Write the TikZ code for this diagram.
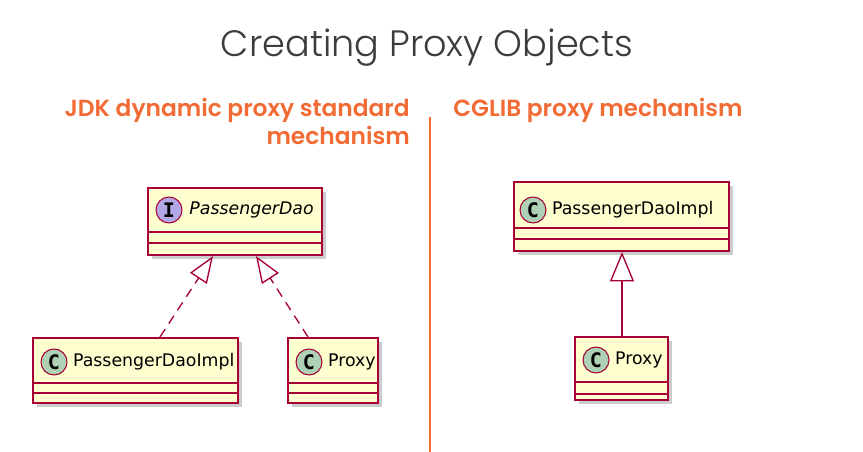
\documentclass[tikz,border=0pt]{standalone}
\usepackage{fontspec}
\setmainfont{Poppins}
\IfFontExistsTF{Poppins Light}{\newfontfamily\titlefont{Poppins Light}}{\newfontfamily\titlefont{Poppins}}
\IfFontExistsTF{Poppins SemiBold}{\newfontfamily\headfont{Poppins SemiBold}}{\newfontfamily\headfont[FakeBold=1.5]{Poppins}}
\newfontfamily\umlfont{DejaVu Sans}
\newfontfamily\umlmono{DejaVu Sans Mono}
\usetikzlibrary{positioning,fit,shadows,arrows.meta}

\definecolor{umlred}{HTML}{A80036}
\definecolor{umlfill}{HTML}{FEFECE}
\definecolor{cgreen}{HTML}{ADD1B2}
\definecolor{ipurple}{HTML}{B4A7E5}
\definecolor{psorange}{HTML}{F26B35}
\definecolor{titlegray}{HTML}{3C3C3C}

\tikzset{
  umlbox/.style={draw=umlred, fill=umlfill, line width=1.6pt, inner sep=0pt,
    drop shadow={shadow xshift=3pt, shadow yshift=-3pt, opacity=0.4}},
  umlsep/.style={draw=umlred, line width=1.3pt},
  stereo/.style={circle, draw=umlred, line width=0.8pt, minimum size=19.5pt,
    inner sep=0pt, font=\umlmono\bfseries\fontsize{15}{15}\selectfont},
  umlname/.style={inner sep=0pt, font=\umlfont\fontsize{13}{15}\selectfont},
  heading/.style={text=psorange, inner sep=0pt, font=\headfont\fontsize{17.5}{20}\selectfont},
  realize/.style={draw=umlred, line width=1pt, dash pattern=on 7pt off 5pt,
    -{Triangle[open, length=20pt, width=15pt]}},
  extend/.style={draw=umlred, line width=1pt, -{Triangle[open, length=22pt, width=18pt]}},
}

\begin{document}
\begin{tikzpicture}[x=0.75pt, y=-0.75pt]
\useasboundingbox (0,0) rectangle (863,452);

% title and headings
\node[text=titlegray, inner sep=0pt, anchor=base, font=\titlefont\fontsize{27.5}{30}\selectfont] (title) at (427,57) {Creating Proxy Objects};
\node[heading, anchor=base east] (jdk) at (410,117) {JDK dynamic proxy standard};
\node[heading, anchor=base east] (jdkb) at (410,145) {mechanism};
\node[heading, anchor=base west] (cglib) at (453,117) {CGLIB proxy mechanism};
\draw[psorange, line width=1.5pt] (430,117) -- (430,452); % divider

% JDK side
\node[umlbox, fit={(148,188) (322,255)}] (dao) {};
\draw[umlsep] (148,232) -- (322,232);
\draw[umlsep] (148,243) -- (322,243);
\node[stereo, fill=ipurple] (daoI) at (169,210) {I};
\node[umlname, right=5pt of daoI] (daoname) {\itshape PassengerDao};

\node[umlbox, fit={(33,338) (238,403)}] (impl) {};
\draw[umlsep] (33,383) -- (238,383);
\draw[umlsep] (33,393) -- (238,393);
\node[stereo, fill=cgreen] (implC) at (54,362) {C};
\node[umlname, right=4pt of implC] (implname) {PassengerDaoImpl};

\node[umlbox, fit={(288,338) (378,403)}] (proxy) {};
\draw[umlsep] (288,383) -- (378,383);
\draw[umlsep] (288,393) -- (378,393);
\node[stereo, fill=cgreen] (proxyC) at (309,362) {C};
\node[umlname, right=4pt of proxyC] (proxyname) {Proxy};

\draw[realize] (impl.north -| 160,0) -- (dao.south -| 213,0);
\draw[realize] (proxy.north -| 308,0) -- (dao.south -| 256,0);

% CGLIB side
\node[umlbox, fit={(514,182) (729,251)}] (cimpl) {};
\draw[umlsep] (514,228) -- (729,228);
\draw[umlsep] (514,239) -- (729,239);
\node[stereo, fill=cgreen] (cimplC) at (533,210) {C};
\node[umlname, right=4pt of cimplC] (cimplname) {PassengerDaoImpl};

\node[umlbox, fit={(575,337) (668,400)}] (cproxy) {};
\draw[umlsep] (575,382) -- (668,382);
\draw[umlsep] (575,394) -- (668,394);
\node[stereo, fill=cgreen] (cproxyC) at (596,360) {C};
\node[umlname, right=4pt of cproxyC] (cproxyname) {Proxy};

\draw[extend] (cproxy.north -| 622,0) -- (cimpl.south -| 622,0);

\end{tikzpicture}
\end{document}
